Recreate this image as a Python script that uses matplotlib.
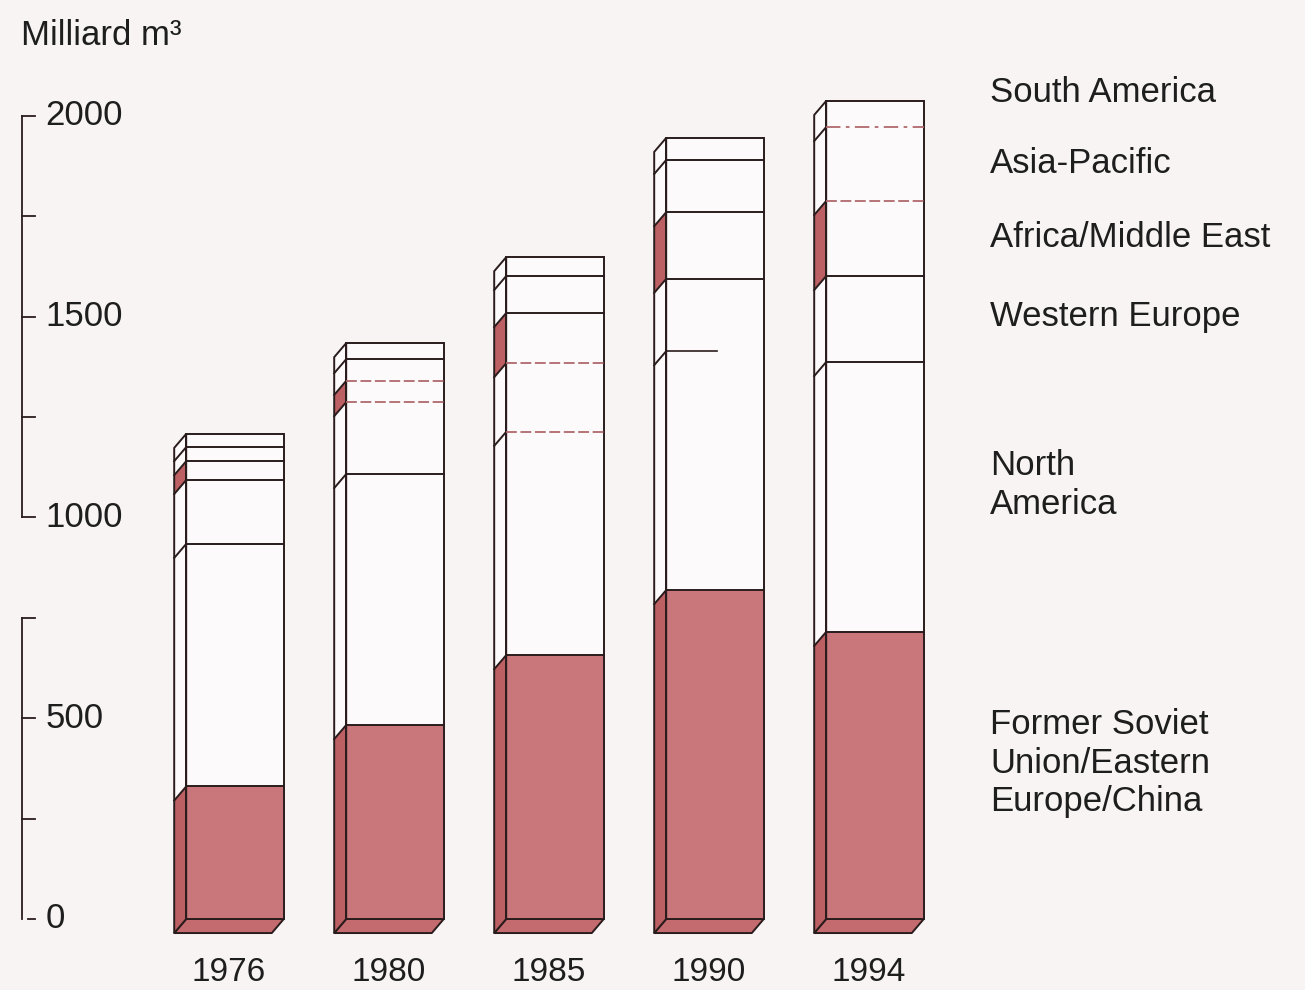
import matplotlib.pyplot as plt
from matplotlib.patches import Polygon, Rectangle

plt.rcParams["font.family"] = ["Liberation Sans", "DejaVu Sans"]

# Natural gas production by region, milliard m3
YEARS = ["1976", "1980", "1985", "1990", "1994"]
REGIONS = [
    "Former Soviet\nUnion/Eastern\nEurope/China",
    "North\nAmerica",
    "Western Europe",
    "Africa/Middle East",
    "Asia-Pacific",
    "South America",
]
FSU_EE_CHINA = [330, 483, 657, 819, 715]
NORTH_AMERICA = [604, 625, 556, 595, 672]
WESTERN_EUROPE = [159, 179, 171, 180, 214]
AFRICA_MIDDLE_EAST = [47, 53, 125, 166, 187]
ASIA_PACIFIC = [35, 54, 92, 130, 184]
SOUTH_AMERICA = [33, 40, 47, 55, 65]
Y_TICKS = [0, 500, 1000, 1500, 2000]

SERIES = [FSU_EE_CHINA, NORTH_AMERICA, WESTERN_EUROPE,
          AFRICA_MIDDLE_EAST, ASIA_PACIFIC, SOUTH_AMERICA]

BG = "#f8f4f4"
WHITE = "#fcfafa"
RED = "#c9777a"
RED_SIDE = "#bc6064"
RED_BOTTOM = "#c36b6e"
INK = "#2a1c1c"
FAINT = "#b0686c"
FS = 25

BAR_W = 0.61
DX = 0.075   # depth offset, to the left
DY = 35.0    # depth offset, downward

# boundary lines printed as light dashes instead of solid rules
EDGE_STYLES = {(1, 3): "dash", (1, 4): "dash", (2, 2): "dash", (2, 3): "dash",
               (3, 2): "short", (4, 4): "dash", (4, 5): "dashdot"}

fig = plt.figure(figsize=(13.05, 9.9), dpi=100, facecolor=BG)
ax = fig.add_axes([0, 0, 1, 1])
ax.set_facecolor(BG)
ax.set_xlim(-1.46875, 6.6875)
ax.set_ylim(-176.8, 2288.3)
ax.axis("off")

for i, year in enumerate(YEARS):
    x0 = i - BAR_W / 2
    x1 = i + BAR_W / 2
    tops = [0]
    for s in SERIES:
        tops.append(tops[-1] + s[i])

    # bottom face
    ax.add_patch(Polygon([(x0, 0), (x1, 0), (x1 - DX, -DY), (x0 - DX, -DY)],
                         closed=True, facecolor=RED_BOTTOM, edgecolor=INK,
                         linewidth=1.4, joinstyle="round"))

    for k in range(len(SERIES)):
        lo, hi = tops[k], tops[k + 1]
        front = RED if k == 0 else WHITE
        side = RED_SIDE if k in (0, 3) else WHITE
        ax.add_patch(Rectangle((x0, lo), BAR_W, hi - lo, facecolor=front,
                               edgecolor="none"))
        ax.add_patch(Polygon([(x0, lo), (x0, hi), (x0 - DX, hi - DY), (x0 - DX, lo - DY)],
                             closed=True, facecolor=side, edgecolor="none"))

    top = tops[-1]
    # outlines of front and side faces
    ax.add_patch(Rectangle((x0, 0), BAR_W, top, facecolor="none",
                           edgecolor=INK, linewidth=1.4))
    ax.add_patch(Polygon([(x0, 0), (x0, top), (x0 - DX, top - DY), (x0 - DX, -DY)],
                         closed=True, facecolor="none", edgecolor=INK, linewidth=1.4))

    for k in range(1, len(SERIES)):
        y = tops[k]
        ax.plot([x0, x0 - DX], [y, y - DY], color=INK, lw=1.4)
        style = EDGE_STYLES.get((i, k), "solid")
        if style == "solid":
            ax.plot([x0, x1], [y, y], color=INK, lw=1.4)
        elif style == "short":
            ax.plot([x0, x0 + 0.32], [y, y], color=INK, lw=1.2)
        elif style == "dash":
            ax.plot([x0, x1], [y, y], color=FAINT, lw=1.3, linestyle=(0, (6, 2)))
        else:
            ax.plot([x0, x1], [y, y], color=FAINT, lw=1.3, linestyle=(0, (8, 3, 2, 3)))

    ax.text(i - DX / 2, -172, year, ha="center", va="bottom", fontsize=FS - 1,
            color="#1e1e1e")

# broken value axis on the left
AXIS_X = -1.33
TICK = 0.08
ax.plot([AXIS_X, AXIS_X], [0, 750], color=INK, lw=1.3)
ax.plot([AXIS_X, AXIS_X], [1000, 2000], color=INK, lw=1.3)
for v in [250, 500, 750, 1000, 1250, 1500, 1750, 2000]:
    ax.plot([AXIS_X, AXIS_X + TICK], [v, v], color=INK, lw=1.3)
ax.plot([AXIS_X + 0.035, AXIS_X + TICK], [0, 0], color=INK, lw=1.3)
for v in Y_TICKS:
    ax.text(AXIS_X + 0.145, v, str(v), ha="left", va="center",
            fontsize=FS, color="#1e1e1e")

ax.text(-1.34, 2200, "Milliard m³", ha="left", va="center", fontsize=FS, color="#1e1e1e")

# region labels at the right
LABEL_Y = [388, 1081, 1501, 1698, 1882, 2059]
for name, y in zip(REGIONS, LABEL_Y):
    ax.text(4.72, y, name, ha="left", va="center", fontsize=FS,
            linespacing=1.22, color="#1e1e1e")

fig.savefig("out.png", dpi=100, facecolor=BG)
